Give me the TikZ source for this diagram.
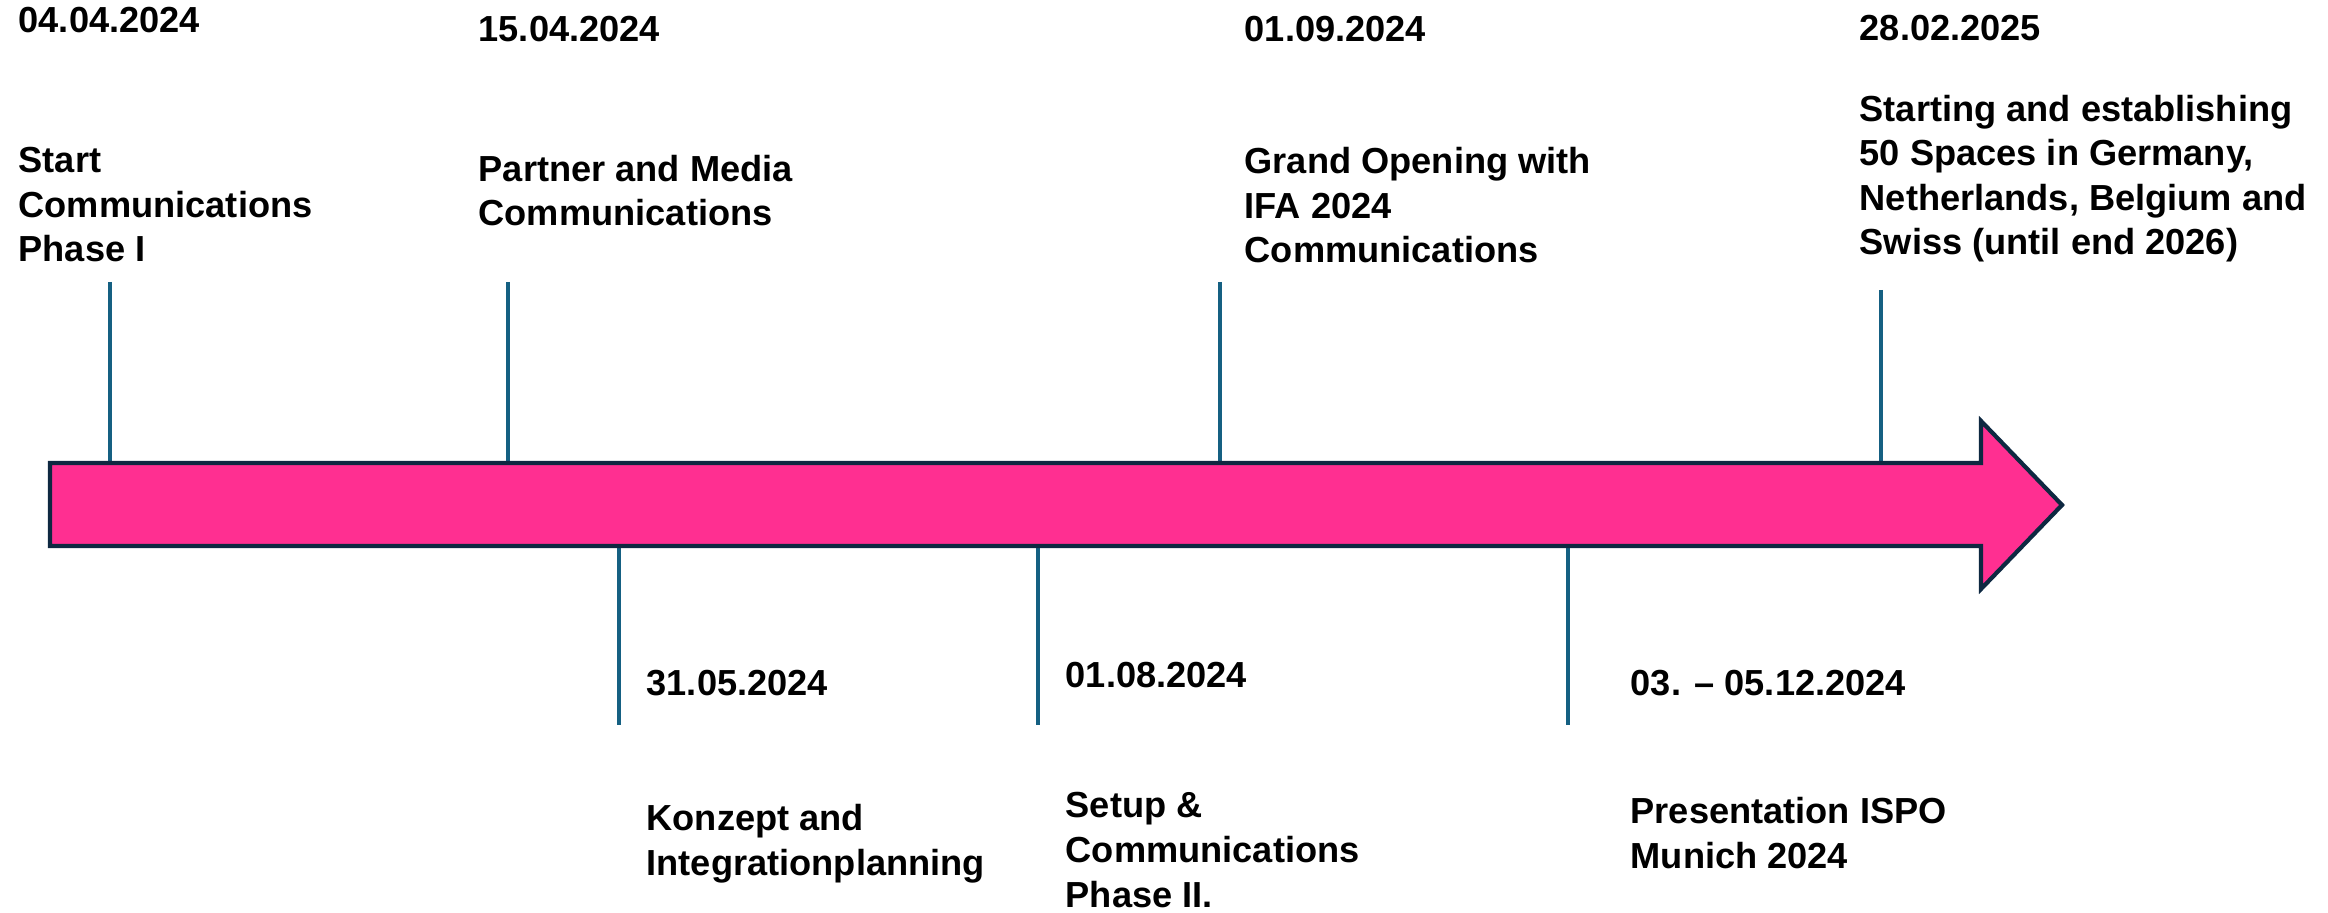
\documentclass[tikz,border=0pt]{standalone}
\usepackage{fontspec}
\setmainfont{Liberation Sans}
\usetikzlibrary{calc}
\definecolor{balken}{RGB}{255,47,145}
\definecolor{rand}{RGB}{14,40,65}
\definecolor{strich}{RGB}{21,96,130}

\begin{document}
\begin{tikzpicture}[x=0.01cm,y=-0.01cm,
		eintrag/.style={anchor=base west,align=left,inner sep=0pt,font=\bfseries\fontsize{10.3}{12.66}\selectfont},
		tick/.style={-,line width=1.05pt,color=strich}]
			\useasboundingbox (0,0) rectangle (2328,913);
			\def\oben{282}
			\def\kante{463}
			\def\unten{546}
			\def\ende{725}
			% Striche oben
			\coordinate (o1) at (110,\oben);  \coordinate (k1) at (110,\kante);
			\coordinate (o2) at (508,\oben);  \coordinate (k2) at (508,\kante);
			\coordinate (o3) at (1220,\oben); \coordinate (k3) at (1220,\kante);
			\coordinate (o4) at (1881,290);   \coordinate (k4) at (1881,\kante);
			\draw[tick] (o1) -- (k1);
			\draw[tick] (o2) -- (k2);
			\draw[tick] (o3) -- (k3);
			\draw[tick] (o4) -- (k4);
			% Striche unten
			\coordinate (u1) at (619,\unten);  \coordinate (e1) at (619,\ende);
			\coordinate (u2) at (1038,\unten); \coordinate (e2) at (1038,\ende);
			\coordinate (u3) at (1568,\unten); \coordinate (e3) at (1568,\ende);
			\draw[tick] (u1) -- (e1);
			\draw[tick] (u2) -- (e2);
			\draw[tick] (u3) -- (e3);
			% Pfeil
			\draw[line width=1.2pt, color=rand, fill=balken, line join=miter] (50,\kante) -- (1981,\kante) -- (1981,421) -- (2062,505) -- (1981,589) -- (1981,\unten) -- (50,\unten) -- cycle;
			% Texte oben (Anker: Grundlinie der letzten Zeile)
			\node[eintrag] (d1) at (18,33) {04.04.2024};
			\node[eintrag] (t1) at (18,262) {Start\\Communications\\Phase I};
			\node[eintrag] (d2) at (478,42) {15.04.2024};
			\node[eintrag] (t2) at (478,226) {Partner and Media\\Communications};
			\node[eintrag] (d3) at (1244,42) {01.09.2024};
			\node[eintrag] (t3) at (1244,263) {Grand Opening with\\IFA 2024\\Communications};
			\node[eintrag] (d4) at (1859,41) {28.02.2025};
			\node[eintrag] (t4) at (1859,255) {Starting and establishing\\50 Spaces in Germany,\\Netherlands, Belgium and\\Swiss (until end 2026)};
			% Texte unten
			\node[eintrag] (d5) at (646,695) {31.05.2024};
			\node[eintrag] (t5) at (646,875) {Konzept and\\Integrationplanning};
			\node[eintrag] (d6) at (1065,687) {01.08.2024};
			\node[eintrag] (t6) at (1065,907) {Setup \&\\Communications\\Phase II.};
			\node[eintrag] (d7) at (1630,695) {03. -- 05.12.2024};
			\node[eintrag] (t7) at (1630,868) {Presentation ISPO\\Munich 2024};
		\end{tikzpicture}
\end{document}
